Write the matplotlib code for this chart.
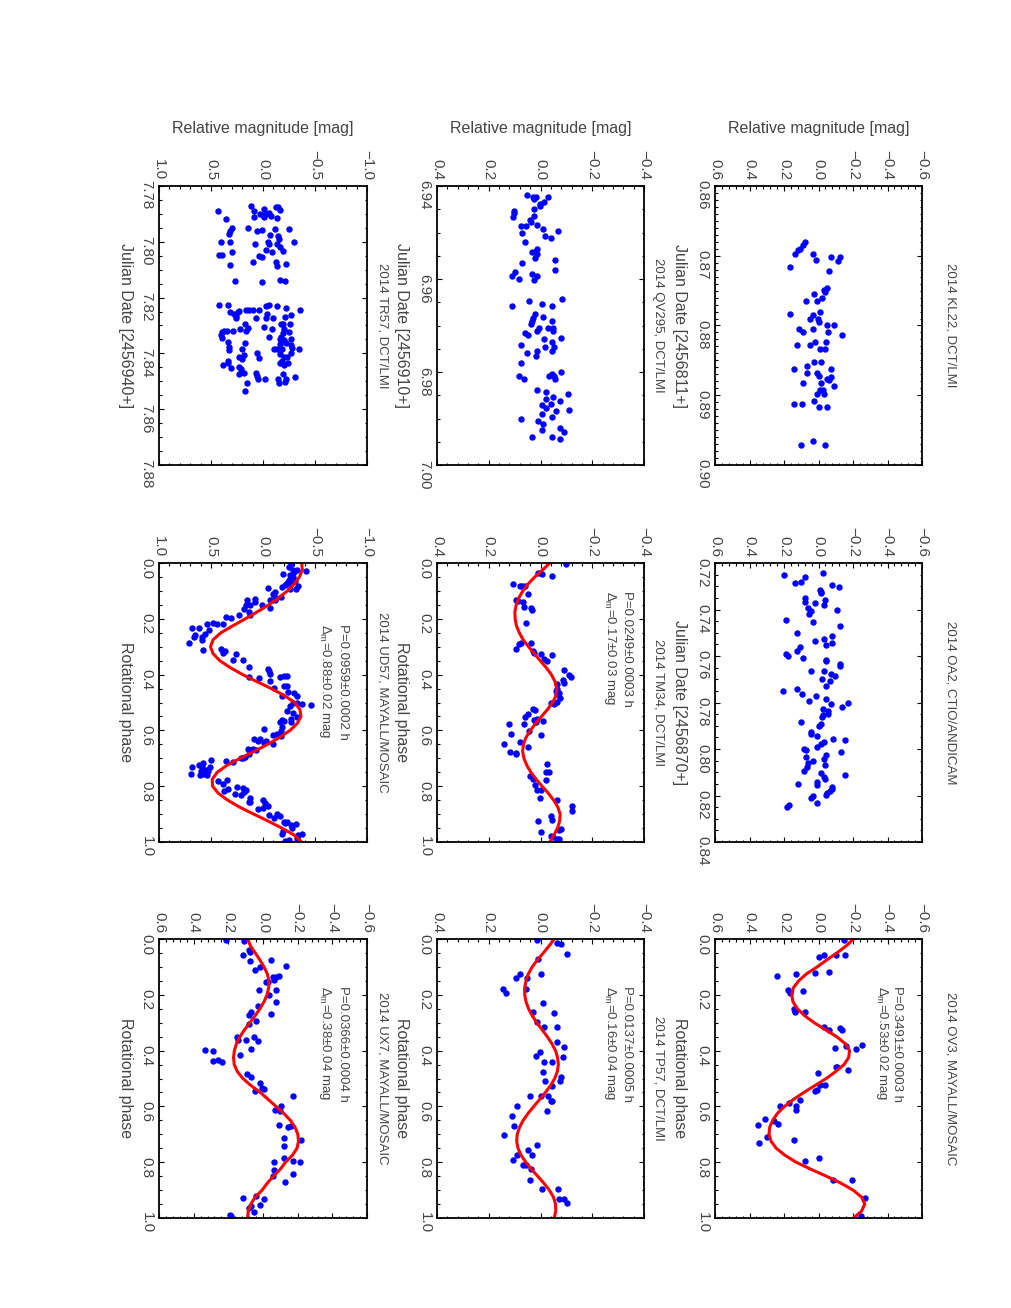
import numpy as np
import matplotlib
matplotlib.use('Agg')
import matplotlib.pyplot as plt
from matplotlib.ticker import FixedLocator, FuncFormatter

plt.rcParams['font.family'] = ['Liberation Sans', 'DejaVu Sans']
plt.rcParams['mathtext.fontset'] = 'custom'
plt.rcParams['mathtext.rm'] = 'Liberation Sans'
plt.rcParams['mathtext.it'] = 'Liberation Sans'

# ---------------- data ----------------
# 2014 KL22  (Julian date - 2456811, relative mag)
kl22_date = [0.8681, 0.8685, 0.8690, 0.8692, 0.8697, 0.8697, 0.8706, 0.8702, 0.8702, 0.8707,
             0.8716, 0.8722, 0.8746, 0.8749, 0.8752, 0.8755, 0.8760, 0.8765, 0.8765, 0.8781,
             0.8784, 0.8785, 0.8790, 0.8790, 0.8795, 0.8800, 0.8800, 0.8805, 0.8805, 0.8809,
             0.8809, 0.8814, 0.8824, 0.8824, 0.8828, 0.8828, 0.8834, 0.8834, 0.8853, 0.8853,
             0.8863, 0.8858, 0.8863, 0.8868, 0.8868, 0.8873, 0.8874, 0.8876, 0.8878, 0.8883,
             0.8883, 0.8887, 0.8892, 0.8892, 0.8898, 0.8898, 0.8908, 0.8912, 0.8912, 0.8917,
             0.8917, 0.8971, 0.8966, 0.8971]
kl22_mag = [0.077, 0.091, 0.106, 0.116, 0.139, 0.033, 0.014, -0.072, -0.126, -0.112,
            0.163, -0.058, -0.048, -0.033, -0.039, 0.025, -0.019, 0.074, 0.006, -0.010,
            0.164, 0.029, 0.048, 0.004, 0.000, -0.091, -0.052, 0.112, 0.033, 0.087,
            -0.054, -0.139, 0.023, -0.043, 0.122, 0.052, -0.010, -0.039, 0.025, -0.015,
            0.143, 0.068, -0.072, 0.068, 0.006, 0.000, -0.072, -0.048, -0.062, 0.091,
            -0.015, -0.087, -0.010, -0.025, 0.006, -0.029, 0.025, 0.143, 0.093, 0.000,
            -0.048, 0.103, 0.033, -0.039]

# 2014 OA2  (Julian date - 2456870)
oa2_date = [0.7250, 0.7242, 0.7260, 0.7285, 0.7280, 0.7295, 0.7305, 0.7315, 0.7325, 0.7329,
            0.7349, 0.7358, 0.7368, 0.7372, 0.7382, 0.7392, 0.7408, 0.7404, 0.7421, 0.7447,
            0.7455, 0.7471, 0.7500, 0.7515, 0.7526, 0.7534, 0.7544, 0.7554, 0.7563, 0.7579,
            0.7590, 0.7599, 0.7607, 0.7619, 0.7623, 0.7633, 0.7642, 0.7663, 0.7666, 0.7676,
            0.7686, 0.7698, 0.7706, 0.7729, 0.7741, 0.7751, 0.7765, 0.7774, 0.7784, 0.7795,
            0.7802, 0.7808, 0.7818, 0.7830, 0.7838, 0.7848, 0.7855, 0.7863, 0.7883, 0.7891,
            0.7903, 0.7927, 0.7934, 0.7946, 0.7956, 0.7960, 0.7970, 0.7980, 0.7992, 0.7999,
            0.8006, 0.8014, 0.8025, 0.8035, 0.8043, 0.8053, 0.8059, 0.8068, 0.8078, 0.8096,
            0.8102, 0.8121, 0.8129, 0.8113, 0.8142, 0.8151, 0.8156, 0.8164, 0.8172, 0.8181,
            0.8189, 0.8198, 0.8204, 0.8210, 0.8231, 0.8240, 0.8250]
oa2_mag = [0.199, -0.025, 0.077, 0.139, 0.101, -0.077, -0.120, -0.010, -0.014, -0.015,
           0.077, -0.035, 0.081, 0.019, -0.031, 0.058, 0.045, -0.110, 0.054, 0.188,
           0.031, -0.124, 0.122, -0.081, -0.033, 0.019, -0.081, -0.041, 0.110, 0.126,
           0.188, 0.178, 0.089, -0.045, -0.045, -0.122, -0.126, -0.029, 0.045, -0.074,
           -0.093, -0.019, -0.066, -0.045, 0.124, 0.203, 0.097, 0.015, -0.043, 0.054,
           -0.170, -0.074, -0.135, -0.025, -0.056, -0.054, -0.025, -0.019, 0.101, -0.014,
           0.000, 0.045, 0.043, 0.010, -0.083, -0.155, -0.029, -0.014, 0.010, 0.083,
           0.072, -0.128, -0.045, 0.075, -0.031, 0.033, 0.058, -0.037, 0.068, 0.083,
           -0.014, -0.029, -0.039, -0.155, 0.006, 0.118, 0.010, -0.077, -0.076, -0.068,
           -0.048, -0.045, 0.033, 0.046, 0.006, 0.170, 0.184]

# 2014 OV3  (rotational phase)
ov3_phase = [0.002, 0.057, 0.066, 0.057, 0.057, 0.124, 0.131, 0.122, 0.118, 0.182,
             0.194, 0.188, 0.250, 0.257, 0.263, 0.262, 0.315, 0.327, 0.319, 0.327,
             0.391, 0.382, 0.394, 0.381, 0.458, 0.458, 0.468, 0.480, 0.522, 0.522,
             0.546, 0.540, 0.578, 0.588, 0.597, 0.600, 0.612, 0.645, 0.654, 0.665,
             0.663, 0.710, 0.719, 0.731, 0.785, 0.797, 0.863, 0.863, 0.928, 0.994]
ov3_mag = [-0.149, -0.029, 0.000, -0.101, -0.151, 0.130, 0.238, 0.021, -0.062, 0.174,
           0.168, 0.087, 0.143, 0.139, 0.135, 0.077, -0.029, -0.062, -0.122, -0.135,
           -0.095, -0.159, -0.217, -0.252, -0.101, -0.110, -0.170, 0.004, -0.010, -0.035,
           0.019, 0.010, 0.110, 0.170, 0.133, 0.226, 0.130, 0.310, 0.257, 0.352,
           0.232, 0.300, 0.141, 0.346, 0.000, 0.081, -0.083, -0.197, -0.271, -0.246]

# 2014 QV295  (Julian date - 2456910)
qv295_date = [6.9419, 6.9424, 6.9424, 6.9429, 6.9424, 6.9434, 6.9439, 6.9443, 6.9449, 6.9453,
              6.9459, 6.9466, 6.9464, 6.9473, 6.9477, 6.9484, 6.9487, 6.9487, 6.9492, 6.9496,
              6.9501, 6.9507, 6.9511, 6.9521, 6.9536, 6.9541, 6.9541, 6.9546, 6.9555, 6.9560,
              6.9566, 6.9580, 6.9585, 6.9589, 6.9594, 6.9599, 6.9594, 6.9603, 6.9643, 6.9648,
              6.9657, 6.9653, 6.9657, 6.9676, 6.9683, 6.9681, 6.9691, 6.9696, 6.9691, 6.9705,
              6.9706, 6.9711, 6.9716, 6.9721, 6.9706, 6.9711, 6.9741, 6.9730, 6.9726, 6.9735,
              6.9746, 6.9746, 6.9755, 6.9760, 6.9755, 6.9766, 6.9780, 6.9808, 6.9814, 6.9805,
              6.9808, 6.9808, 6.9814, 6.9799, 6.9838, 6.9843, 6.9853, 6.9848, 6.9858, 6.9863,
              6.9871, 6.9868, 6.9878, 6.9882, 6.9883, 6.9891, 6.9896, 6.9901, 6.9906, 6.9911,
              6.9921, 6.9930, 6.9925, 6.9940, 6.9940, 6.9945]
qv295_mag = [0.052, 0.028, 0.019, 0.025, -0.030, -0.013, 0.003, 0.003, 0.026, 0.103,
             0.103, 0.106, 0.026, 0.041, 0.037, 0.015, 0.077, 0.057, -0.010, -0.068,
             0.071, -0.018, -0.039, 0.058, 0.015, 0.022, 0.032, 0.012, 0.022, -0.055,
             0.070, -0.055, 0.099, 0.032, 0.112, 0.084, 0.012, 0.025, -0.084, 0.046,
             0.112, -0.004, -0.043, 0.022, 0.028, -0.008, 0.032, 0.035, -0.045, -0.030,
             0.005, 0.012, 0.061, 0.048, -0.049, -0.049, 0.074, -0.013, -0.079, -0.046,
             -0.017, -0.052, -0.045, 0.054, 0.015, 0.018, 0.074, 0.084, 0.065, -0.046,
             -0.052, -0.034, -0.055, -0.079, 0.012, -0.023, -0.049, -0.107, -0.021, -0.075,
             -0.004, -0.039, -0.023, -0.110, -0.058, -0.004, -0.045, 0.077, 0.009, -0.010,
             -0.075, -0.092, -0.004, 0.031, -0.045, -0.077]

# 2014 TM34  (rotational phase)
tm34_phase = [0.002, 0.035, 0.038, 0.047, 0.074, 0.084, 0.084, 0.084, 0.112, 0.134,
              0.137, 0.140, 0.160, 0.170, 0.158, 0.214, 0.289, 0.287, 0.307, 0.287,
              0.315, 0.321, 0.325, 0.343, 0.329, 0.352, 0.382, 0.403, 0.409, 0.421,
              0.429, 0.432, 0.450, 0.459, 0.465, 0.468, 0.484, 0.498, 0.502, 0.504,
              0.522, 0.526, 0.540, 0.552, 0.564, 0.560, 0.566, 0.570, 0.578, 0.578,
              0.614, 0.602, 0.618, 0.648, 0.642, 0.660, 0.677, 0.680, 0.683, 0.719,
              0.749, 0.749, 0.765, 0.773, 0.776, 0.797, 0.812, 0.815, 0.841, 0.851,
              0.872, 0.889, 0.908, 0.922, 0.925, 0.952, 0.956, 0.964, 0.978, 0.982,
              0.988, 0.990]
tm34_mag = [-0.097, 0.009, -0.004, -0.043, 0.106, 0.080, 0.070, 0.061, 0.048, 0.093,
            0.086, 0.067, 0.035, 0.032, 0.063, 0.057, 0.084, 0.077, 0.093, 0.037,
            0.028, 0.025, 0.000, -0.013, -0.043, -0.027, -0.092, -0.110, -0.117, -0.088,
            -0.090, -0.062, -0.064, -0.058, -0.070, -0.062, -0.075, -0.062, -0.040, -0.052,
            0.028, 0.022, 0.050, 0.058, 0.026, 0.015, -0.008, 0.018, 0.121, 0.063,
            0.115, 0.044, 0.000, 0.142, 0.080, 0.048, 0.119, 0.096, 0.094, -0.026,
            -0.023, -0.032, 0.041, 0.028, -0.021, 0.022, 0.012, -0.001, 0.003, -0.064,
            -0.123, -0.120, -0.040, -0.043, 0.009, -0.081, -0.072, 0.000, -0.039, -0.049,
            -0.072, -0.062]

# 2014 TP57  (rotational phase)
tp57_phase = [0.002, 0.014, 0.017, 0.054, 0.070, 0.124, 0.124, 0.141, 0.141, 0.178,
              0.194, 0.178, 0.229, 0.265, 0.263, 0.299, 0.315, 0.315, 0.370, 0.387,
              0.424, 0.421, 0.405, 0.441, 0.441, 0.477, 0.495, 0.510, 0.510, 0.528,
              0.564, 0.564, 0.564, 0.579, 0.579, 0.600, 0.615, 0.633, 0.669, 0.704,
              0.740, 0.755, 0.773, 0.773, 0.791, 0.809, 0.809, 0.824, 0.863, 0.896,
              0.896, 0.931, 0.931, 0.946]
tp57_mag = [0.012, -0.062, -0.081, -0.103, 0.009, 0.000, 0.080, 0.095, 0.054, 0.144,
            0.134, 0.057, -0.008, -0.052, 0.028, 0.012, -0.013, -0.062, -0.065, -0.092,
            -0.088, 0.018, 0.003, -0.014, -0.045, -0.008, -0.079, -0.075, -0.017, -0.045,
            0.041, -0.001, -0.030, -0.040, -0.046, 0.089, -0.026, 0.112, 0.103, 0.142,
            0.015, 0.050, 0.090, 0.034, 0.106, 0.067, 0.057, 0.037, 0.039, -0.004,
            -0.066, -0.071, -0.092, -0.101]

# 2014 TR57  (Julian date - 2456940)
tr57_date = [7.7871, 7.7889, 7.7882, 7.7876, 7.7876, 7.7886, 7.7889, 7.7900, 7.7904, 7.7900,
             7.7895, 7.7906, 7.7915, 7.7910, 7.7910, 7.7919, 7.7949, 7.7963, 7.7972, 7.7949,
             7.7957, 7.7963, 7.7954, 7.7954, 7.7975, 7.7981, 7.7990, 7.7999, 7.8007, 7.8008,
             7.8001, 7.8002, 7.7999, 7.8007, 7.8017, 7.8032, 7.8031, 7.8036, 7.8038, 7.8049,
             7.8046, 7.8050, 7.8056, 7.8073, 7.8073, 7.8086, 7.8078, 7.8082, 7.8139, 7.8144,
             7.8136, 7.8139,
             7.8227, 7.8227, 7.8252, 7.8259, 7.8266, 7.8252, 7.8248, 7.8272, 7.8245, 7.8245,
             7.8243, 7.8245, 7.8231, 7.8225, 7.8231, 7.8237, 7.8243, 7.8272, 7.8257, 7.8272,
             7.8272, 7.8263, 7.8270, 7.8296, 7.8306, 7.8311, 7.8296, 7.8296, 7.8293, 7.8318,
             7.8320, 7.8324, 7.8318, 7.8314, 7.8308, 7.8320, 7.8335, 7.8344, 7.8340, 7.8314,
             7.8328, 7.8324, 7.8342, 7.8350, 7.8352, 7.8347, 7.8359, 7.8376, 7.8362, 7.8383,
             7.8388, 7.8364, 7.8371, 7.8380, 7.8368, 7.8383, 7.8383, 7.8383, 7.8397, 7.8385,
             7.8412, 7.8419, 7.8407, 7.8397, 7.8415, 7.8403, 7.8412, 7.8413, 7.8427, 7.8435,
             7.8443, 7.8433, 7.8427, 7.8435, 7.8440, 7.8451, 7.8449, 7.8455, 7.8469, 7.8475,
             7.8471, 7.8490, 7.8481, 7.8490, 7.8490, 7.8490, 7.8484, 7.8474, 7.8507, 7.8502,
             7.8507, 7.8534]
tr57_mag = [0.113, 0.084, -0.013, -0.126, -0.142, -0.168, 0.436, 0.026, 0.000, -0.029,
            -0.055, -0.077, -0.135, 0.084, -0.006, 0.355, 0.294, 0.316, 0.326, 0.145,
            0.010, 0.058, -0.113, -0.248, -0.065, -0.142, -0.152, -0.045, -0.055, 0.074,
            -0.297, 0.406, 0.316, -0.135, -0.168, -0.190, -0.029, -0.087, 0.300, 0.419,
            0.397, 0.042, 0.010, 0.100, -0.129, -0.135, -0.223, 0.316, 0.268, 0.010,
            -0.161, -0.210,
            0.423, 0.332, 0.316, 0.277, 0.258, 0.245, 0.229, 0.261, 0.161, 0.139,
            0.097, 0.042, -0.029, -0.061, -0.135, -0.223, -0.355, 0.065, -0.039, -0.029,
            -0.097, -0.271, -0.210, 0.171, -0.006, -0.087, -0.174, -0.194, -0.258, 0.371,
            0.342, 0.397, 0.290, 0.219, 0.148, 0.165, 0.403, 0.397, -0.055, -0.200,
            -0.194, -0.248, -0.177, -0.168, -0.206, -0.265, 0.332, 0.326, 0.177, 0.203,
            0.326, -0.223, -0.271, -0.281, -0.168, -0.187, -0.135, -0.110, -0.265, -0.345,
            0.229, 0.203, 0.181, 0.058, 0.042, -0.161, -0.200, -0.232, -0.187, -0.161,
            -0.206, -0.242, 0.332, 0.339, 0.387, 0.306, 0.235, 0.213, 0.181, 0.235,
            0.065, 0.052, 0.058, -0.023, -0.142, -0.223, -0.303, -0.190, -0.152, -0.210,
            0.155, 0.171]

# 2014 UD57  (rotational phase)
ud57_phase = [0.002, 0.014, 0.024, 0.032, 0.026, 0.029, 0.041, 0.044, 0.050, 0.060,
              0.066, 0.072, 0.074, 0.080, 0.082, 0.086, 0.090, 0.094, 0.094, 0.104,
              0.110, 0.122, 0.125, 0.131, 0.131, 0.131, 0.131, 0.128, 0.140, 0.152,
              0.152, 0.149, 0.160, 0.164, 0.176, 0.185, 0.185, 0.194, 0.196, 0.217,
              0.215, 0.217, 0.220, 0.233, 0.232, 0.239, 0.257, 0.265, 0.265, 0.253,
              0.287, 0.277, 0.311, 0.309, 0.317, 0.323, 0.327, 0.349, 0.349, 0.373,
              0.409, 0.411, 0.379, 0.387, 0.399, 0.409, 0.406, 0.405, 0.424, 0.441,
              0.441, 0.448, 0.462, 0.466, 0.477, 0.478, 0.502, 0.502, 0.504, 0.508,
              0.514, 0.532, 0.536, 0.552, 0.560, 0.564, 0.570, 0.570, 0.567, 0.594,
              0.588, 0.603, 0.612, 0.618, 0.621, 0.630, 0.630, 0.638, 0.639, 0.646,
              0.650, 0.666, 0.669, 0.665, 0.684, 0.695, 0.698, 0.698, 0.707, 0.710,
              0.713, 0.717, 0.725, 0.731, 0.731, 0.731, 0.741, 0.746, 0.746, 0.751,
              0.755, 0.755, 0.761, 0.761, 0.783, 0.779, 0.791, 0.809, 0.817, 0.804,
              0.806, 0.812, 0.821, 0.830, 0.829, 0.841, 0.857, 0.857, 0.851, 0.860,
              0.872, 0.877, 0.881, 0.898, 0.908, 0.904, 0.914, 0.928, 0.932, 0.928,
              0.940, 0.937, 0.950, 0.961, 0.973, 0.970, 0.976, 0.984, 0.994, 0.996]
ud57_mag = [-0.265, -0.248, -0.290, -0.297, -0.329, -0.410, -0.194, -0.255, -0.290, -0.248,
            -0.303, -0.232, -0.265, -0.216, -0.335, -0.184, -0.048, -0.258, -0.313, -0.119,
            -0.094, -0.174, -0.129, -0.087, -0.065, -0.113, 0.155, 0.074, 0.074, 0.161,
            0.129, 0.010, -0.071, 0.181, 0.139, 0.123, 0.229, 0.358, 0.310, 0.536,
            0.484, 0.439, 0.387, 0.687, 0.613, 0.516, 0.655, 0.590, 0.665, 0.558,
            0.710, 0.590, 0.581, 0.406, 0.364, 0.381, 0.258, 0.290, 0.197, 0.132,
            0.132, 0.035, -0.048, -0.061, -0.065, -0.161, -0.206, -0.232, -0.071, -0.200,
            -0.232, -0.103, -0.242, -0.297, -0.329, -0.184, -0.323, -0.290, -0.377, -0.458,
            -0.258, -0.226, -0.287, -0.329, -0.271, -0.184, -0.161, -0.265, -0.200, -0.013,
            -0.184, -0.177, -0.135, -0.094, -0.177, 0.090, 0.032, -0.029, 0.052, -0.006,
            -0.094, 0.097, 0.065, 0.148, 0.139, 0.171, 0.210, 0.194, 0.503, 0.355,
            0.284, 0.581, 0.613, 0.687, 0.584, 0.510, 0.552, 0.597, 0.526, 0.574,
            0.694, 0.581, 0.607, 0.536, 0.429, 0.342, 0.381, 0.332, 0.371, 0.252,
            0.197, 0.165, 0.181, 0.213, 0.268, 0.129, 0.139, 0.123, 0.000, -0.023,
            -0.045, 0.003, 0.052, -0.135, -0.168, -0.061, -0.110, -0.200, -0.216, -0.232,
            -0.265, -0.313, -0.281, -0.190, -0.184, -0.377, -0.339, -0.329, -0.248, -0.216]

# 2014 UX7  (rotational phase)
ux7_phase = [0.002, 0.008, 0.041, 0.047, 0.056, 0.080, 0.074, 0.098, 0.102, 0.112,
             0.136, 0.136, 0.131, 0.146, 0.155, 0.155, 0.184, 0.184, 0.200, 0.227,
             0.239, 0.268, 0.263, 0.274, 0.295, 0.303, 0.351, 0.361, 0.363, 0.352,
             0.367, 0.394, 0.415, 0.399, 0.403, 0.436, 0.432, 0.441, 0.484, 0.496,
             0.516, 0.544, 0.534, 0.536, 0.564, 0.600, 0.614, 0.615, 0.665, 0.671,
             0.673, 0.719, 0.713, 0.743, 0.794, 0.800, 0.785, 0.800, 0.829, 0.848,
             0.842, 0.871, 0.928, 0.922, 0.931, 0.958, 0.955, 0.978, 0.964, 0.988,
             0.994]
ux7_mag = [0.215, 0.108, 0.083, 0.077, 0.116, 0.074, -0.046, -0.134, 0.019, 0.045,
           -0.056, -0.075, -0.091, -0.066, -0.027, -0.017, 0.025, -0.075, -0.033, -0.075,
           0.029, -0.048, 0.070, 0.083, 0.041, 0.083, 0.151, 0.147, 0.099, 0.050,
           0.029, 0.068, 0.132, 0.335, 0.286, 0.290, 0.257, 0.238, 0.093, 0.068,
           0.015, 0.045, 0.006, -0.008, -0.174, -0.106, -0.072, -0.097, -0.091, -0.159,
           -0.145, -0.217, -0.120, -0.120, -0.174, -0.211, -0.120, -0.062, -0.066, -0.056,
           -0.172, -0.126, 0.116, 0.041, -0.004, 0.070, 0.015, 0.054, 0.079, 0.190,
           0.184]

# fitted light curves, read at fixed phases
fit_phase = [0.000, 0.025, 0.050, 0.075, 0.100, 0.125, 0.150, 0.175, 0.200, 0.225,
             0.250, 0.275, 0.300, 0.325, 0.350, 0.375, 0.400, 0.425, 0.450, 0.475,
             0.500, 0.525, 0.550, 0.575, 0.600, 0.625, 0.650, 0.675, 0.700, 0.725,
             0.750, 0.775, 0.800, 0.825, 0.850, 0.875, 0.900, 0.925, 0.950, 0.975,
             1.000]
ov3_fit = [-0.203, -0.160, -0.106, -0.048, 0.008, 0.070, 0.115, 0.146, 0.155, 0.148,
           0.122, 0.080, 0.025, -0.040, -0.105, -0.155, -0.180, -0.175, -0.148, -0.100,
           -0.045, 0.020, 0.085, 0.145, 0.197, 0.238, 0.266, 0.283, 0.287, 0.275,
           0.245, 0.195, 0.130, 0.045, -0.045, -0.130, -0.200, -0.250, -0.268, -0.250,
           -0.203]
tm34_fit = [-0.036, -0.008, 0.022, 0.048, 0.068, 0.084, 0.094, 0.099, 0.098, 0.093,
            0.082, 0.067, 0.046, 0.024, 0.001, -0.022, -0.042, -0.056, -0.063, -0.060,
            -0.047, -0.027, -0.004, 0.019, 0.039, 0.056, 0.066, 0.069, 0.064, 0.053,
            0.037, 0.017, -0.006, -0.030, -0.051, -0.067, -0.076, -0.074, -0.066, -0.052,
            -0.036]
tp57_fit = [-0.053, -0.033, -0.011, 0.012, 0.032, 0.047, 0.056, 0.061, 0.061, 0.056,
            0.046, 0.032, 0.014, -0.006, -0.026, -0.044, -0.058, -0.066, -0.069, -0.065,
            -0.055, -0.039, -0.019, 0.003, 0.026, 0.048, 0.067, 0.081, 0.090, 0.092,
            0.087, 0.075, 0.057, 0.035, 0.011, -0.013, -0.034, -0.050, -0.058, -0.059,
            -0.053]
ud57_fit = [-0.372, -0.378, -0.350, -0.300, -0.235, -0.150, -0.055, 0.055, 0.170, 0.290,
            0.405, 0.480, 0.505, 0.480, 0.415, 0.315, 0.195, 0.060, -0.080, -0.205,
            -0.305, -0.355, -0.365, -0.330, -0.260, -0.160, -0.045, 0.085, 0.220, 0.345,
            0.440, 0.488, 0.485, 0.430, 0.340, 0.225, 0.090, -0.050, -0.180, -0.300,
            -0.372]
ux7_fit = [0.089, 0.072, 0.045, 0.018, -0.006, -0.025, -0.034, -0.033, -0.023, -0.006,
           0.018, 0.045, 0.076, 0.106, 0.133, 0.153, 0.165, 0.170, 0.166, 0.148,
           0.116, 0.070, 0.015, -0.030, -0.075, -0.120, -0.158, -0.185, -0.201, -0.205,
           -0.196, -0.170, -0.130, -0.100, -0.060, -0.025, 0.005, 0.045, 0.070, 0.085,
           0.089]

# ---------------- figure ----------------
W, H = 1011.0, 1308.0
fig = plt.figure(figsize=(W / 100, H / 100), dpi=100)

TXT = '#444444'
col_px = {'L': (159, 367), 'M': (437, 644), 'R': (715, 922)}
row_px = {'T': (186, 465), 'C': (563, 842), 'B': (939, 1218)}
title_x = {'L': 383, 'M': 658, 'R': 950}
xlab_x = {'L': 125, 'M': 402, 'R': 680}


def fmt(dec):
    def f(v, pos):
        s = '%.*f' % (dec, v)
        if float(s) == 0:
            s = s.lstrip('-')
        return s.replace('-', '\u2212')
    return FuncFormatter(f)


def steps(lo, hi, step):
    return np.round(np.arange(lo, hi + step / 2, step), 5)


def panel(col, row, mlim, mstep, mminor, tlim, tstep, tminor, tdec, tlabel, title):
    x0, x1 = col_px[col]
    y0, y1 = row_px[row]
    ax = fig.add_axes([x0 / W, 1 - y1 / H, (x1 - x0) / W, (y1 - y0) / H])
    ax.set_xlim(mlim, -mlim)
    ax.set_ylim(tlim[1], tlim[0])
    ax.xaxis.set_major_locator(FixedLocator(steps(-mlim, mlim, mstep)))
    ax.xaxis.set_minor_locator(FixedLocator(steps(-mlim, mlim, mminor)))
    ax.yaxis.set_major_locator(FixedLocator(steps(tlim[0], tlim[1], tstep)))
    ax.yaxis.set_minor_locator(FixedLocator(steps(tlim[0], tlim[1], tminor)))
    ax.xaxis.set_major_formatter(fmt(1))
    ax.yaxis.set_major_formatter(fmt(tdec))
    ax.tick_params(axis='both', which='both', direction='in', top=True, bottom=True,
                   left=True, right=True, labeltop=True, labelbottom=False,
                   labelleft=True, labelright=False, color='black', width=0.8)
    ax.tick_params(axis='both', which='major', length=3.5, pad=4, labelsize=11,
                   labelcolor=TXT, labelrotation=-90)
    ax.tick_params(axis='both', which='minor', length=1.8)
    for s in ax.spines.values():
        s.set_linewidth(1.3)
    cy = 1 - (y0 + y1) / 2 / H
    fig.text(title_x[col] / W, cy, title, rotation=-90, ha='center', va='center',
             fontsize=9.5, color=TXT)
    fig.text(xlab_x[col] / W, cy, tlabel, rotation=-90, ha='center', va='center',
             fontsize=11.5, color=TXT)
    if row == 'T':
        fig.text((x0 + x1) / 2 / W, 1 - 128 / H, 'Relative magnitude [mag]',
                 ha='center', va='center', fontsize=11.5, color=TXT)
    return ax


def dots(ax, t, m):
    ax.plot(m, t, 'o', color='#0000ff', ms=4.6, mec='none')


def fit(ax, mags, ptxt, dtxt, px, dx, start):
    ax.plot(mags, fit_phase, color='#ff0000', lw=2.2, solid_joinstyle='round')
    ax.text(1 - px, 1 - start, ptxt, transform=ax.transAxes, rotation=-90,
            rotation_mode='anchor', ha='left', va='center', fontsize=9.5, color=TXT)
    ax.text(1 - dx, 1 - start, dtxt, transform=ax.transAxes, rotation=-90,
            rotation_mode='anchor', ha='left', va='center', fontsize=9.5, color=TXT)


phase_lab = 'Rotational phase'

# right column
ax = panel('R', 'T', 0.6, 0.2, 0.04, (0.86, 0.90), 0.01, 0.001, 2,
           'Julian Date [2456811+]', '2014 KL22, DCT/LMI')
dots(ax, kl22_date, kl22_mag)

ax = panel('R', 'C', 0.6, 0.2, 0.04, (0.72, 0.84), 0.02, 0.005, 2,
           'Julian Date [2456870+]', '2014 OA2, CTIO/ANDICAM')
dots(ax, oa2_date, oa2_mag)

ax = panel('R', 'B', 0.6, 0.2, 0.04, (0.0, 1.0), 0.2, 0.05, 1,
           phase_lab, '2014 OV3, MAYALL/MOSAIC')
dots(ax, ov3_phase, ov3_mag)
fit(ax, ov3_fit, 'P=0.3491\u00b10.0003 h', r'$\Delta_m$=0.53$\pm$0.02 mag', 0.12, 0.195, 0.17)

# middle column
ax = panel('M', 'T', 0.4, 0.2, 0.04, (6.94, 7.00), 0.02, 0.005, 2,
           'Julian Date [2456910+]', '2014 QV295, DCT/LMI')
dots(ax, qv295_date, qv295_mag)

ax = panel('M', 'C', 0.4, 0.2, 0.04, (0.0, 1.0), 0.2, 0.05, 1,
           phase_lab, '2014 TM34, DCT/LMI')
dots(ax, tm34_phase, tm34_mag)
fit(ax, tm34_fit, 'P=0.0249\u00b10.0003 h', r'$\Delta_m$=0.17$\pm$0.03 mag', 0.084, 0.164, 0.10)

ax = panel('M', 'B', 0.4, 0.2, 0.04, (0.0, 1.0), 0.2, 0.05, 1,
           phase_lab, '2014 TP57, DCT/LMI')
dots(ax, tp57_phase, tp57_mag)
fit(ax, tp57_fit, 'P=0.0137\u00b10.0005 h', r'$\Delta_m$=0.16$\pm$0.04 mag', 0.084, 0.165, 0.17)

# left column
ax = panel('L', 'T', 1.0, 0.5, 0.1, (7.78, 7.88), 0.02, 0.005, 2,
           'Julian Date [2456940+]', '2014 TR57, DCT/LMI')
dots(ax, tr57_date, tr57_mag)

ax = panel('L', 'C', 1.0, 0.5, 0.1, (0.0, 1.0), 0.2, 0.05, 1,
           phase_lab, '2014 UD57, MAYALL/MOSAIC')
dots(ax, ud57_phase, ud57_mag)
fit(ax, ud57_fit, 'P=0.0959\u00b10.0002 h', r'$\Delta_m$=0.88$\pm$0.02 mag', 0.117, 0.2, 0.22)

ax = panel('L', 'B', 0.6, 0.2, 0.04, (0.0, 1.0), 0.2, 0.05, 1,
           phase_lab, '2014 UX7, MAYALL/MOSAIC')
dots(ax, ux7_phase, ux7_mag)
fit(ax, ux7_fit, 'P=0.0366\u00b10.0004 h', r'$\Delta_m$=0.38$\pm$0.04 mag', 0.117, 0.2, 0.17)

fig.savefig('out.png', dpi=100)
